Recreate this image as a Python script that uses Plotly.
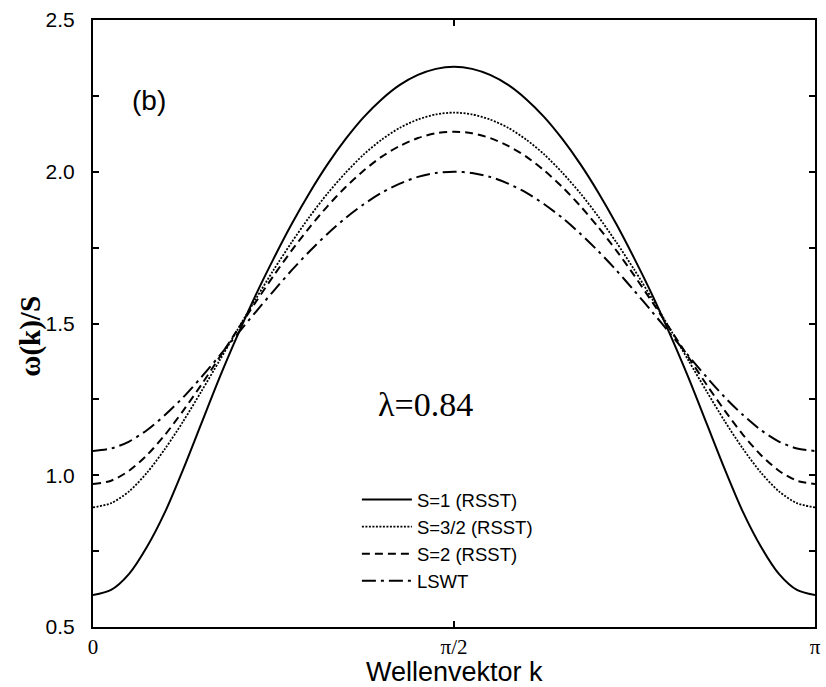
import plotly.graph_objects as go
import math

# wave vector k in steps of pi/40 from 0 to pi
k_values = [j * math.pi / 40 for j in range(41)]

# omega(k)/S from k = 0 to pi/2; the dispersion is symmetric about pi/2
s1_half = [0.605, 0.622, 0.675, 0.765, 0.880, 1.020, 1.170, 1.320, 1.460, 1.592, 1.713,
           1.827, 1.931, 2.025, 2.108, 2.180, 2.239, 2.286, 2.319, 2.339, 2.346]
s32_half = [0.894, 0.908, 0.947, 1.009, 1.088, 1.178, 1.276, 1.377, 1.479, 1.579, 1.676,
            1.767, 1.852, 1.929, 1.997, 2.057, 2.106, 2.145, 2.172, 2.189, 2.195]
s2_half = [0.971, 0.982, 1.015, 1.067, 1.134, 1.213, 1.298, 1.388, 1.479, 1.569, 1.657,
           1.740, 1.817, 1.887, 1.950, 2.004, 2.050, 2.085, 2.111, 2.127, 2.132]
lswt_half = [1.080, 1.088, 1.111, 1.149, 1.199, 1.257, 1.323, 1.393, 1.465, 1.537, 1.607,
             1.675, 1.738, 1.796, 1.848, 1.893, 1.931, 1.961, 1.983, 1.996, 2.000]

omega_s1 = s1_half + s1_half[-2::-1]
omega_s32 = s32_half + s32_half[-2::-1]
omega_s2 = s2_half + s2_half[-2::-1]
omega_lswt = lswt_half + lswt_half[-2::-1]

series_names = ["S=1 (RSST)", "S=3/2 (RSST)", "S=2 (RSST)", "LSWT"]
series_values = [omega_s1, omega_s32, omega_s2, omega_lswt]
series_dash = ["solid", "2px,1.5px", "8px,5px", "14px,5px,3px,5px"]
series_width = [2, 1.8, 2, 2]

x_tickvals = [0, math.pi / 2, math.pi]
x_ticktext = ["0", "\u03c0/2", "\u03c0"]
y_tickvals = [0.5, 0.75, 1.0, 1.25, 1.5, 1.75, 2.0, 2.25, 2.5]
y_ticktext = ["0.5", "", "1.0", "", "1.5", "", "2.0", "", "2.5"]

SANS = "Liberation Sans, Arial, sans-serif"
SERIF = "Liberation Serif, Times New Roman, serif"

fig = go.Figure()
for name, vals, dash, w in zip(series_names, series_values, series_dash, series_width):
    fig.add_trace(go.Scatter(
        x=k_values, y=vals, mode="lines", name=name,
        line=dict(color="black", width=w, dash=dash, shape="spline", smoothing=0.8),
    ))

fig.update_layout(
    width=826, height=687,
    margin=dict(l=93, r=5, t=20, b=60),
    paper_bgcolor="white", plot_bgcolor="white",
    showlegend=True,
    legend=dict(
        x=0.3655, y=0.2405, xanchor="left", yanchor="top",
        bgcolor="rgba(0,0,0,0)", borderwidth=0,
        font=dict(family=SANS, size=18.5, color="black"),
        itemwidth=50, tracegroupgap=0,
    ),
    font=dict(family=SANS, color="black"),
)

fig.update_xaxes(
    range=[0, math.pi], tickvals=x_tickvals, ticktext=x_ticktext,
    ticks="inside", ticklen=6, tickwidth=1.5, tickcolor="black",
    showline=True, linewidth=2, linecolor="black", mirror="allticks",
    showgrid=False, zeroline=False,
    tickfont=dict(family=SERIF, size=21, color="black"),
    ticklabelstandoff=0,
)
fig.update_yaxes(
    range=[0.5, 2.5], tickvals=y_tickvals, ticktext=y_ticktext,
    ticks="inside", ticklen=6, tickwidth=1.5, tickcolor="black",
    showline=True, linewidth=2, linecolor="black", mirror="allticks",
    showgrid=False, zeroline=False,
    tickfont=dict(family=SANS, size=21, color="black"),
    ticklabelstandoff=12,
)

# axis labels
fig.add_annotation(
    x=0.5, y=-0.1021, xref="paper", yref="paper", text="Wellenvektor k",
    xanchor="center", yanchor="bottom", showarrow=False,
    font=dict(family=SANS, size=27, color="black"),
)
fig.add_annotation(
    x=-0.0865, y=0.479, xref="paper", yref="paper", text="<b>\u03c9(k)/S</b>",
    xanchor="center", yanchor="middle", textangle=-90, showarrow=False,
    font=dict(family=SERIF, size=29, color="black"),
)
# panel tag and parameter
fig.add_annotation(
    x=0.078, y=0.868, xref="paper", yref="paper", text="(b)",
    xanchor="center", yanchor="middle", showarrow=False,
    font=dict(family=SANS, size=28, color="black"),
)
fig.add_annotation(
    x=0.46, y=0.367, xref="paper", yref="paper", text="\u03bb=0.84",
    xanchor="center", yanchor="middle", showarrow=False,
    font=dict(family=SERIF, size=34, color="black"),
)

fig.write_html("out.html")
